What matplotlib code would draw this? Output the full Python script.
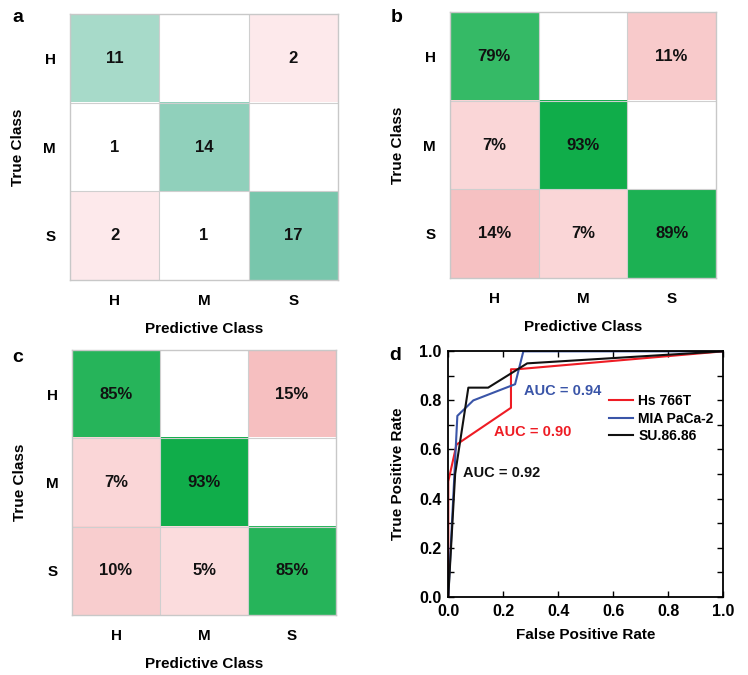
import numpy as np
import matplotlib
matplotlib.use("Agg")
import matplotlib.pyplot as plt
from matplotlib.colors import LinearSegmentedColormap, Normalize
from matplotlib.ticker import MultipleLocator, FormatStrFormatter

plt.rcParams['font.family'] = ['Liberation Sans', 'DejaVu Sans']
plt.rcParams['font.weight'] = 'bold'

classes = ["H", "M", "S"]

counts_a = [[11, 0, 2],
            [1, 14, 0],
            [2, 1, 17]]
pct_b = [[79, 0, 11],
         [7, 93, 0],
         [14, 7, 89]]
pct_c = [[85, 0, 15],
         [7, 93, 0],
         [10, 5, 85]]

# ROC curves
fpr_hs = [0, 0, 0.03, 0.228, 0.228, 0.25, 1.0]
tpr_hs = [0, 0.47, 0.62, 0.77, 0.927, 0.927, 1.0]
fpr_mia = [0, 0.033, 0.091, 0.243, 0.273, 1.0]
tpr_mia = [0, 0.737, 0.80, 0.866, 1.0, 1.0]
fpr_su = [0, 0.025, 0.073, 0.145, 0.287, 1.0]
tpr_su = [0, 0.50, 0.852, 0.852, 0.951, 1.0]
roc_labels = ["Hs 766T", "MIA PaCa-2", "SU.86.86"]
auc_texts = ["AUC = 0.90", "AUC = 0.94", "AUC = 0.92"]

green_a = LinearSegmentedColormap.from_list("ga", [(1, 1, 1), (60/255, 173/255, 136/255)])
green_p = LinearSegmentedColormap.from_list("gp", [(1, 1, 1), (0/255, 168/255, 62/255)])
pink = LinearSegmentedColormap.from_list("pk", [(254/255, 235/255, 236/255), (246/255, 191/255, 192/255)])
pink_a = LinearSegmentedColormap.from_list("pka", [(1, 1, 1), (253/255, 233/255, 235/255)])

fig = plt.figure(figsize=(7.48, 6.75), dpi=100)

def heat(ax, data, gcmap, gnorm, pcmap, pnorm, fmt):
    data = np.array(data, dtype=float)
    n = data.shape[0]
    img = np.ones((n, n, 4))
    for i in range(n):
        for j in range(n):
            v = data[i, j]
            if v == 0:
                continue
            if i == j:
                img[i, j] = gcmap(gnorm(v))
            else:
                img[i, j] = pcmap(pnorm(v))
    ax.imshow(img, aspect='auto', interpolation='nearest')
    for i in range(n):
        for j in range(n):
            v = data[i, j]
            if v != 0:
                ax.text(j, i, fmt(v), ha='center', va='center', fontsize=12,
                        fontweight='bold', color='#111111')
    for k in [0.5, 1.5]:
        ax.axhline(k, color='#cfcfcf', lw=0.8)
        ax.axvline(k, color='#cfcfcf', lw=0.8)
    for s in ax.spines.values():
        s.set_color('#c8c8c8')
        s.set_linewidth(1.0)
    ax.set_xticks(range(n))
    ax.set_yticks(range(n))
    ax.set_xticklabels(classes, fontsize=11, fontweight='bold')
    ax.set_yticklabels(classes, fontsize=11, fontweight='bold')
    ax.tick_params(length=0, pad=10)
    ax.set_xlabel("Predictive Class", fontsize=11, fontweight='bold', labelpad=10)
    ax.set_ylabel("True Class", fontsize=11, fontweight='bold', labelpad=13)

ax_a = fig.add_axes([0.0936, 0.5852, 0.3583, 0.394])
heat(ax_a, counts_a, green_a, Normalize(0, 24.7), pink_a, Normalize(1, 2), lambda v: f"{int(v)}")
ax_b = fig.add_axes([0.6016, 0.5881, 0.3556, 0.394])
heat(ax_b, pct_b, green_p, Normalize(0, 100), pink, Normalize(0, 15), lambda v: f"{int(v)}%")
ax_c = fig.add_axes([0.0963, 0.0889, 0.353, 0.3926])
heat(ax_c, pct_c, green_p, Normalize(0, 100), pink, Normalize(0, 15), lambda v: f"{int(v)}%")

ax_d = fig.add_axes([0.5993, 0.116, 0.3676, 0.3635])
ax_d.plot(fpr_hs, tpr_hs, color='#ee1c24', lw=1.5, label=roc_labels[0])
ax_d.plot(fpr_mia, tpr_mia, color='#3a55a8', lw=1.5, label=roc_labels[1])
ax_d.plot(fpr_su, tpr_su, color='#111111', lw=1.5, label=roc_labels[2])
ax_d.set_xlim(0, 1)
ax_d.set_ylim(0, 1)
ax_d.xaxis.set_major_locator(MultipleLocator(0.2))
ax_d.yaxis.set_major_locator(MultipleLocator(0.2))
ax_d.yaxis.set_minor_locator(MultipleLocator(0.1))
ax_d.xaxis.set_major_formatter(FormatStrFormatter('%.1f'))
ax_d.yaxis.set_major_formatter(FormatStrFormatter('%.1f'))
ax_d.tick_params(which='both', direction='in', top=True, right=True, length=4, width=1,
                 labelsize=11.5, pad=5)
for lbl in ax_d.get_xticklabels() + ax_d.get_yticklabels():
    lbl.set_fontweight('bold')
for s in ax_d.spines.values():
    s.set_linewidth(1.3)
ax_d.set_xlabel("False Positive Rate", fontsize=11, fontweight='bold', labelpad=7)
ax_d.set_ylabel("True Positive Rate", fontsize=11, fontweight='bold', labelpad=10)
ax_d.text(0.166, 0.672, auc_texts[0], color='#ee1c24', fontsize=10.5, fontweight='bold', va='center')
ax_d.text(0.275, 0.838, auc_texts[1], color='#3a55a8', fontsize=10.5, fontweight='bold', va='center')
ax_d.text(0.055, 0.503, auc_texts[2], color='#111111', fontsize=10.5, fontweight='bold', va='center')
leg = ax_d.legend(loc='upper left', bbox_to_anchor=(0.585, 0.825), frameon=False,
                  fontsize=10, handlelength=1.7, handletextpad=0.4, labelspacing=0.25,
                  borderpad=0, borderaxespad=0)
for t in leg.get_texts():
    t.set_fontweight('bold')

for txt, x, y in [("a", 18, 17), ("b", 397, 17), ("c", 18, 357), ("d", 395, 355)]:
    fig.text(x/748, 1 - y/675, txt, fontsize=14, fontweight='bold', ha='center', va='center')

fig.savefig("out.png", dpi=100)
